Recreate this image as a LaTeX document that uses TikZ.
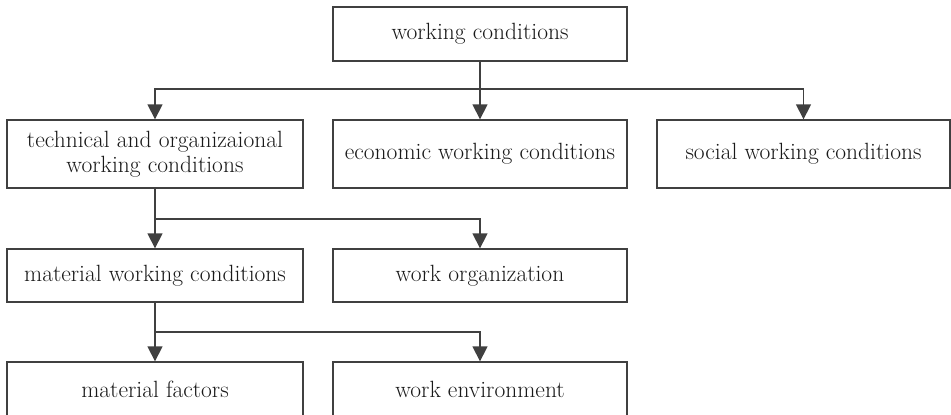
\documentclass[tikz,border=0pt]{standalone}
\usetikzlibrary{arrows.meta}
\definecolor{ink}{HTML}{404040}
\begin{document}
\begin{tikzpicture}[x=1pt,y=-1pt,
  box/.style={draw=ink,line width=1.3pt,inner sep=0pt,align=center,
    font=\fontsize{23.5}{25}\selectfont,text=black!90},
  link/.style={draw=ink,line width=1.3pt},
  arr/.style={link,-{Triangle[length=15pt,width=15pt]}}]
\useasboundingbox (0,0) rectangle (951,415);
% boxes
\node[box,minimum width=294pt,minimum height=54pt] (wc) at (480,34) {working conditions};
\node[box,minimum width=296pt,minimum height=68pt] (tech) at (155,154) {technical and organizaional\\working conditions};
\node[box,minimum width=294pt,minimum height=68pt] (econ) at (480,154) {economic working conditions};
\node[box,minimum width=293pt,minimum height=68pt] (soc) at (803.5,154) {social working conditions};
\node[box,minimum width=296pt,minimum height=53pt] (mat) at (155,275.5) {material working conditions};
\node[box,minimum width=294pt,minimum height=53pt] (org) at (480,275.5) {work organization};
\node[box,minimum width=296pt,minimum height=55pt] (fac) at (155,389.5) {material factors};
\node[box,minimum width=294pt,minimum height=55pt] (env) at (480,389.5) {work environment};
% junction points
\coordinate (j1) at (480,89);
\coordinate (j2) at (155,219);
\coordinate (j3) at (155,332);
% connectors
\draw[link] (wc) -- (j1);
\draw[arr] (j1) -| (tech);
\draw[arr] (j1) -- (econ);
\draw[arr] (j1) -| (soc);
\draw[link] (tech) -- (j2);
\draw[arr] (j2) -- (mat);
\draw[arr] (j2) -| (org);
\draw[link] (mat) -- (j3);
\draw[arr] (j3) -- (fac);
\draw[arr] (j3) -| (env);
\end{tikzpicture}
\end{document}
